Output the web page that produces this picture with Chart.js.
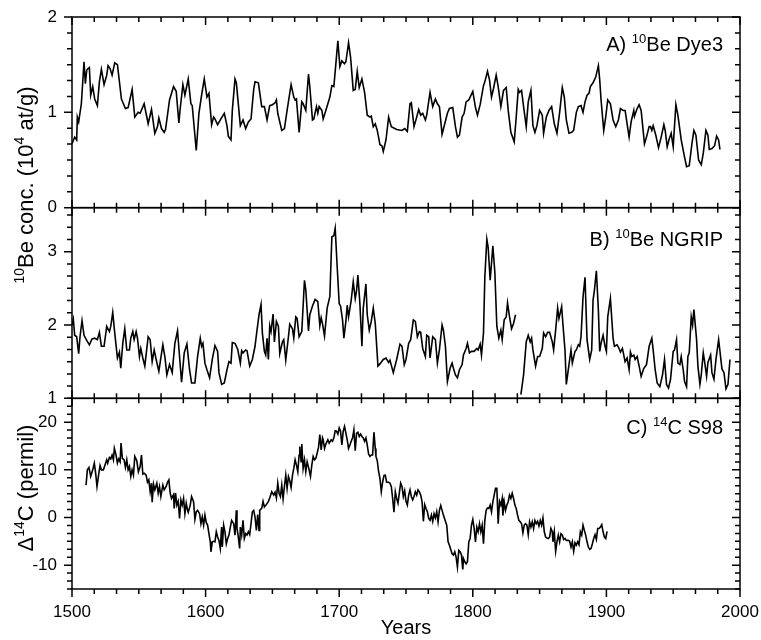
<!DOCTYPE html>
<html>
<head>
<meta charset="utf-8">
<script src="https://cdn.jsdelivr.net/npm/chart.js@4.4.1/dist/chart.umd.min.js"></script>
<style>
    html, body { margin: 0; padding: 0; background: #fff; }
    #wrap { width: 761px; height: 640px; }
</style>
</head>
<body>
<div id="wrap"><canvas id="cosmo" width="761" height="640"></canvas></div>
<script>
var dye3Years = [1500, 1502, 1503.5, 1504, 1505, 1507, 1509, 1510, 1511, 1512, 1513, 1514, 1515.5, 1517, 1519, 1520.5, 1522, 1524, 1526, 1527, 1528.5, 1530, 1532, 1534, 1537, 1540, 1542, 1545, 1547, 1549.5, 1551, 1554, 1557, 1559.5, 1562, 1564, 1565, 1567, 1569, 1570, 1573, 1576, 1578, 1580, 1581, 1583, 1584.5, 1587, 1589, 1590, 1593, 1595, 1597, 1599, 1601, 1602.5, 1604.5, 1606, 1607, 1609, 1611, 1614, 1616, 1617, 1619, 1620, 1622, 1623, 1626, 1628, 1630, 1632, 1634, 1636, 1637, 1639.5, 1642, 1644, 1646, 1648, 1650, 1652, 1653, 1654, 1657, 1659, 1661, 1664, 1666, 1667, 1668, 1670, 1672, 1673, 1675, 1677, 1678, 1680, 1681, 1683, 1684, 1685, 1687, 1688, 1690, 1693, 1694.5, 1696, 1699, 1700.5, 1702, 1704, 1705, 1707, 1708.5, 1710.5, 1712, 1713.5, 1715, 1717, 1719, 1721, 1723, 1724, 1725.5, 1727, 1728.5, 1730.5, 1732, 1733, 1735, 1737, 1739, 1743, 1747, 1749, 1751, 1753, 1754, 1756, 1758, 1759.5, 1761, 1762.5, 1764.5, 1765.5, 1768, 1770, 1772, 1773.5, 1775, 1777, 1779, 1781, 1782.5, 1785, 1787, 1788.5, 1790, 1792, 1793.5, 1795, 1797, 1798, 1800, 1802, 1803.5, 1805.5, 1808, 1809, 1811, 1812.5, 1814, 1815.5, 1817.5, 1819, 1821, 1823, 1825, 1826.5, 1828.5, 1831, 1832.5, 1834, 1835, 1836.5, 1838, 1840, 1841.5, 1843.5, 1845, 1846.5, 1848, 1850, 1852, 1853, 1855, 1857, 1859, 1861, 1863, 1865, 1867, 1868.5, 1870, 1872, 1874, 1875.5, 1877.5, 1879, 1881, 1882.5, 1884, 1885.5, 1887, 1888, 1890, 1892, 1894, 1895, 1896, 1898, 1899.5, 1901, 1903, 1905, 1907, 1909, 1910.5, 1912.5, 1914, 1915.5, 1917, 1918.5, 1920.5, 1921, 1923, 1924.5, 1926, 1928.5, 1930, 1932, 1933, 1934, 1935, 1937, 1939, 1941, 1943, 1944, 1945.5, 1947, 1948.5, 1950, 1952, 1953.5, 1956, 1958.5, 1960, 1962, 1964, 1965.5, 1967, 1969, 1971, 1972.5, 1974.5, 1976, 1977, 1979, 1981, 1982.5, 1984, 1985];
var dye3Values = [0.67, 0.74, 0.71, 0.95, 0.90, 1.09, 1.53, 1.30, 1.44, 1.46, 1.47, 1.18, 1.27, 1.14, 1.07, 1.32, 1.45, 1.29, 1.39, 1.49, 1.46, 1.39, 1.52, 1.50, 1.14, 1.04, 1.05, 1.24, 0.95, 1.00, 0.99, 1.09, 0.88, 1.03, 0.78, 0.85, 0.94, 0.83, 0.79, 0.82, 1.13, 1.27, 1.22, 0.89, 1.04, 1.29, 1.18, 1.35, 1.09, 1.07, 0.60, 0.99, 1.18, 1.35, 1.16, 1.20, 0.87, 0.95, 0.93, 0.87, 0.92, 0.99, 0.86, 0.75, 0.71, 1.02, 1.35, 1.31, 0.86, 0.92, 0.83, 0.90, 0.93, 1.24, 1.32, 1.31, 1.06, 1.06, 0.92, 1.07, 1.08, 1.10, 1.13, 0.99, 0.81, 0.83, 1.02, 1.29, 1.16, 1.13, 1.14, 0.79, 1.11, 1.09, 1.02, 1.40, 1.27, 0.92, 0.93, 1.06, 0.99, 1.06, 1.02, 0.93, 1.02, 1.16, 1.28, 1.27, 1.75, 1.48, 1.54, 1.51, 1.53, 1.73, 1.58, 1.23, 1.24, 1.43, 1.26, 1.35, 1.21, 0.97, 0.95, 0.96, 0.85, 0.88, 0.81, 0.66, 0.65, 0.59, 0.71, 0.95, 0.85, 0.82, 0.81, 0.83, 0.80, 1.09, 1.10, 0.85, 0.95, 1.03, 0.97, 0.99, 0.92, 0.97, 1.21, 1.06, 1.14, 1.09, 1.06, 0.77, 0.88, 0.99, 1.04, 1.05, 0.85, 0.74, 0.76, 0.95, 0.99, 1.11, 1.13, 1.16, 1.22, 1.05, 0.97, 1.08, 1.28, 1.32, 1.43, 1.34, 1.16, 1.25, 1.39, 1.27, 1.06, 1.23, 1.26, 1.02, 0.79, 0.69, 0.95, 1.24, 1.21, 1.23, 1.06, 0.85, 1.11, 1.23, 0.86, 0.79, 0.86, 1.02, 0.97, 0.78, 0.95, 1.02, 1.06, 0.88, 0.78, 1.00, 1.26, 1.16, 0.92, 0.78, 0.79, 0.81, 1.00, 1.06, 1.07, 1.00, 1.11, 1.18, 1.20, 1.27, 1.31, 1.37, 1.49, 1.34, 1.13, 0.81, 0.95, 1.13, 1.09, 0.92, 0.85, 0.92, 1.04, 1.02, 1.02, 0.88, 0.74, 0.90, 1.02, 0.96, 1.04, 1.08, 1.02, 0.67, 0.74, 0.85, 0.85, 0.81, 0.86, 0.76, 0.63, 0.74, 0.87, 0.81, 0.64, 0.72, 0.78, 0.64, 1.08, 0.97, 0.71, 0.53, 0.43, 0.44, 0.67, 0.81, 0.76, 0.50, 0.45, 0.57, 0.81, 0.76, 0.61, 0.62, 0.65, 0.75, 0.71, 0.61];

var ngripYears = [1500, 1501, 1502, 1503.5, 1505, 1506, 1507.5, 1509, 1511, 1513, 1515, 1517, 1519, 1520.5, 1522, 1524, 1526, 1528, 1529, 1530.5, 1532, 1534, 1535.5, 1536.5, 1538, 1539.5, 1541, 1543, 1544, 1545.5, 1546.5, 1548, 1549, 1550.5, 1551.5, 1553, 1554.5, 1557, 1558.5, 1560, 1561.5, 1563, 1565, 1568, 1569.5, 1571, 1573, 1575, 1577, 1579, 1580.5, 1582, 1584, 1586, 1588, 1589.5, 1592, 1594, 1596, 1597, 1598, 1599.5, 1601, 1603, 1605, 1607, 1609, 1610, 1612, 1614, 1616, 1617.5, 1619, 1620, 1622, 1624, 1626, 1627, 1628, 1630, 1631, 1633, 1635, 1637, 1638, 1640, 1641.5, 1642.5, 1644, 1645, 1646, 1647, 1648, 1649, 1650.5, 1651.5, 1653, 1654.5, 1655.5, 1657.5, 1658.5, 1660, 1662, 1663, 1665, 1666, 1667.5, 1668.5, 1670, 1672, 1674, 1675, 1677, 1678, 1680, 1682, 1684, 1685.5, 1686.5, 1687.5, 1689, 1691, 1693, 1694.5, 1696, 1697, 1698.5, 1700, 1701, 1702.5, 1703.5, 1705, 1706, 1707, 1709, 1710.5, 1712, 1713, 1714, 1715.5, 1717, 1718, 1720, 1721, 1722.5, 1724, 1725.5, 1727, 1729, 1730.5, 1733, 1735, 1737, 1738, 1740.5, 1743, 1745.5, 1747, 1748.7, 1750, 1752, 1753.5, 1755.5, 1757, 1758.5, 1760, 1761, 1762.5, 1764.5, 1765.5, 1767, 1768, 1770, 1772, 1773.5, 1775, 1777, 1778, 1779.5, 1781, 1783, 1784.5, 1785.5, 1787, 1788.5, 1790, 1792, 1793, 1795, 1796, 1797.5, 1799, 1801, 1803, 1804, 1805.5, 1806.5, 1808, 1809, 1810.5, 1811.5, 1813, 1814, 1815, 1816.5, 1818, 1819.5, 1821, 1822, 1823.5, 1825, 1826, 1827.5, 1829, 1830.5, 1832, 1834, 1836, 1838, 1840, 1841.5, 1843, 1844, 1845, 1847, 1848.5, 1850, 1852, 1853, 1854.5, 1856, 1857.5, 1859.5, 1860.5, 1862, 1863.5, 1864.5, 1866.5, 1867.5, 1869, 1870, 1872, 1873.5, 1874.5, 1876.5, 1877.5, 1879, 1880, 1881, 1882.5, 1884, 1885.5, 1887.5, 1889, 1890, 1891, 1892.5, 1894, 1895, 1896, 1897.5, 1899, 1900, 1901, 1903, 1905, 1906, 1908, 1909.5, 1910.5, 1912, 1914, 1915.5, 1917, 1918, 1919, 1920.5, 1921.5, 1923, 1924.5, 1926, 1928, 1930, 1932, 1934, 1935, 1936.5, 1938, 1940, 1942, 1943.5, 1945, 1946.5, 1948, 1950, 1951, 1952.5, 1953.5, 1955, 1956, 1957.5, 1958.5, 1960, 1961, 1962, 1963.5, 1964.5, 1965.5, 1967.5, 1968.5, 1970, 1971, 1972.5, 1973.5, 1975, 1976, 1978, 1979, 1980.5, 1982, 1984, 1985, 1986.5, 1988, 1989.5, 1991, 1992.5];
var ngripValues = [2.00, 2.08, 1.86, 1.84, 1.61, 1.84, 2.06, 1.86, 1.79, 1.73, 1.81, 1.82, 1.80, 1.90, 1.71, 1.71, 1.98, 1.91, 1.98, 2.17, 1.89, 1.55, 1.63, 1.41, 1.75, 1.95, 1.66, 1.66, 1.82, 1.91, 1.80, 1.91, 1.82, 1.57, 1.68, 1.55, 1.44, 1.84, 1.80, 1.50, 1.66, 1.53, 1.37, 1.73, 1.57, 1.32, 1.46, 1.35, 1.75, 1.92, 1.57, 1.22, 1.62, 1.74, 1.39, 1.21, 1.21, 1.57, 1.82, 1.71, 1.75, 1.48, 1.39, 1.28, 1.53, 1.72, 1.64, 1.35, 1.19, 1.21, 1.39, 1.50, 1.48, 1.76, 1.75, 1.67, 1.48, 1.65, 1.62, 1.66, 1.65, 1.44, 1.53, 1.71, 1.86, 2.14, 2.28, 1.89, 1.64, 1.59, 1.82, 1.53, 1.99, 1.91, 2.15, 1.77, 2.05, 1.98, 1.61, 1.77, 1.80, 1.52, 1.84, 2.01, 1.95, 1.82, 2.11, 2.09, 1.84, 1.91, 2.61, 2.48, 1.92, 2.14, 2.26, 2.35, 2.32, 1.99, 2.10, 2.02, 1.85, 2.23, 2.39, 3.20, 3.22, 3.32, 2.79, 2.29, 2.26, 2.07, 1.82, 2.05, 2.27, 2.11, 2.34, 2.59, 2.36, 2.47, 2.68, 2.29, 1.71, 2.23, 2.56, 2.14, 1.93, 2.05, 2.23, 2.02, 1.44, 1.47, 1.53, 1.55, 1.49, 1.52, 1.35, 1.53, 1.74, 1.71, 1.46, 1.53, 1.75, 1.80, 2.07, 2.05, 1.84, 1.91, 1.90, 1.68, 1.57, 1.86, 1.84, 1.55, 1.84, 1.80, 1.48, 1.66, 2.00, 1.93, 1.71, 1.23, 1.41, 1.48, 1.41, 1.32, 1.28, 1.39, 1.46, 1.59, 1.68, 1.75, 1.62, 1.64, 1.64, 1.68, 1.66, 1.74, 1.59, 1.89, 2.65, 3.17, 3.06, 2.61, 2.84, 3.08, 2.72, 1.98, 1.82, 1.93, 1.80, 2.07, 2.11, 2.30, 2.11, 1.95, 2.02, 2.14, null, 1.05, 1.32, 1.77, 1.86, 1.77, 1.82, 1.66, 1.44, 1.57, 1.57, 1.68, 1.89, 1.84, 1.90, 1.90, 1.77, 1.66, 1.93, 2.23, 2.09, 2.25, 2.00, 1.66, 1.19, 1.46, 1.66, 1.48, 1.64, 1.66, 1.73, 1.71, 1.84, 2.38, 2.65, 1.80, 1.53, 1.66, 2.34, 2.47, 2.74, 2.20, 1.64, 1.75, 1.86, 1.71, 1.64, 2.11, 2.36, 1.82, 1.71, 1.73, 1.68, 1.63, 1.68, 1.50, 1.55, 1.39, 1.63, 1.57, 1.59, 1.53, 1.57, 1.44, 1.30, 1.41, 1.46, 1.71, 1.82, 1.66, 1.39, 1.21, 1.16, 1.32, 1.53, 1.19, 1.14, 1.26, 1.64, 1.66, 1.80, 1.48, 1.46, 1.57, 1.39, 1.23, 1.16, 1.57, 1.62, 2.11, 2.00, 2.21, 1.80, 1.44, 1.19, 1.32, 1.62, 1.50, 1.30, 1.49, 1.59, 1.35, 1.26, 1.53, 1.80, 1.64, 1.40, 1.35, 1.13, 1.19, 1.53];

var s98Years = [1510.5, 1511.5, 1512.7, 1514, 1515.5, 1516.7, 1517.7, 1518.7, 1520, 1521, 1522, 1523.5, 1524.7, 1526, 1526.7, 1528, 1529, 1530, 1531, 1531.7, 1533, 1534, 1535, 1536, 1536.7, 1537.7, 1539, 1540, 1541, 1542, 1543, 1544, 1545, 1546, 1547, 1548.5, 1549.7, 1551, 1552, 1553, 1554, 1555.5, 1556.5, 1557.5, 1558.5, 1559.5, 1560, 1561, 1562, 1563.5, 1564.5, 1565.5, 1566.5, 1568, 1569, 1570.5, 1571.5, 1572.5, 1573.5, 1574.5, 1576, 1576.5, 1577.5, 1578.5, 1579.5, 1580.5, 1581.5, 1582.5, 1583.5, 1584.5, 1585.5, 1586.5, 1587, 1588.5, 1589.5, 1591, 1592, 1593, 1594, 1595.5, 1596.5, 1597.5, 1598.5, 1599.5, 1600.5, 1601.5, 1602.5, 1603.5, 1604, 1605, 1606, 1607, 1608, 1609, 1610, 1611, 1612, 1612.5, 1613.5, 1614.5, 1615.5, 1616.5, 1617.5, 1618.5, 1619.5, 1621, 1622, 1623, 1623.5, 1624.5, 1625.5, 1626, 1627, 1628, 1629, 1630, 1631, 1632, 1633, 1634, 1635, 1636, 1637, 1638, 1639, 1640, 1640.5, 1642, 1643, 1644, 1645.5, 1647, 1648, 1649.5, 1651, 1652, 1653, 1654, 1655, 1656, 1657, 1658, 1659, 1660, 1661, 1662, 1663, 1664, 1665, 1666, 1667, 1668, 1669, 1670, 1670.5, 1671.5, 1672, 1673, 1674, 1675, 1676, 1677.5, 1678.5, 1679.5, 1680.5, 1681.5, 1682.5, 1683.5, 1684.5, 1685.5, 1686.5, 1687.5, 1688, 1689, 1690, 1691.5, 1692.5, 1694, 1695, 1696, 1697, 1698, 1699, 1700, 1701, 1702, 1703, 1704, 1705, 1706, 1707, 1708, 1709, 1710, 1711, 1712, 1713, 1714, 1715, 1716, 1717, 1718, 1719, 1720, 1721, 1722, 1723, 1724, 1725, 1726, 1727, 1727.5, 1728.5, 1729.5, 1730.5, 1731.5, 1732.5, 1733.5, 1734.5, 1735.5, 1737, 1738, 1739, 1740, 1741, 1742, 1743, 1744, 1745, 1746, 1747, 1748, 1749, 1750, 1751, 1752, 1753, 1754, 1755, 1756, 1757, 1758, 1759, 1760, 1761, 1762, 1763, 1764, 1765, 1766, 1767, 1768, 1769, 1770, 1771, 1772, 1773, 1774, 1775, 1776, 1777, 1778, 1779.5, 1780.5, 1781.5, 1782.5, 1783.5, 1784.5, 1785.5, 1786.5, 1787.5, 1788.5, 1789.5, 1790.5, 1791.5, 1792.5, 1793, 1794, 1795, 1796, 1797, 1798, 1799, 1800, 1801, 1802, 1803, 1804, 1805, 1806, 1807, 1808, 1809, 1810, 1811, 1812, 1813, 1814, 1815, 1816, 1817, 1818, 1819, 1820, 1821, 1822, 1822.5, 1823.5, 1824.5, 1825.5, 1826.5, 1827.5, 1828.5, 1829.5, 1830.5, 1831.5, 1832.5, 1833.5, 1834.5, 1835.5, 1836.5, 1837.5, 1838.5, 1839.5, 1840.5, 1841.5, 1842.5, 1843.5, 1844.5, 1845.5, 1846.5, 1847.5, 1848.5, 1849.5, 1850.5, 1851.5, 1852.5, 1853.5, 1854.5, 1855.5, 1856.5, 1857.5, 1858.5, 1859.5, 1860, 1861, 1862, 1863, 1864, 1865, 1866, 1867, 1868, 1869, 1870, 1871.5, 1872.5, 1873.5, 1874.5, 1875.5, 1876.5, 1877.5, 1878.5, 1879.5, 1880.5, 1881.5, 1882.5, 1883.5, 1884.5, 1885.5, 1886.5, 1887.5, 1888.5, 1889.5, 1890.5, 1891.5, 1892.5, 1893.5, 1894.5, 1895.5, 1896.5, 1897.5, 1898.5, 1899.5, 1900.5];
var s98Values = [6.8, 10.0, 10.5, 8.6, 10.0, 11.4, 9.3, 6.5, 9.1, 10.9, 10.0, 10.0, 11.0, 12.1, 11.4, 12.6, 12.3, 13.1, 12.1, 14.5, 13.1, 11.4, 12.3, 11.7, 15.6, 12.4, 12.1, 10.5, 12.1, 10.0, 10.7, 8.6, 10.0, 8.9, 12.8, 11.9, 9.6, 10.7, 13.1, 9.1, 9.3, 8.9, 7.4, 7.9, 5.4, 7.2, 3.2, 7.0, 5.8, 7.2, 5.1, 6.5, 4.4, 6.8, 5.8, 6.5, 7.4, 7.9, 5.1, 4.0, 4.8, 1.9, 5.1, 2.6, 3.4, -0.2, 3.7, 2.6, 4.0, 0.8, 3.0, 1.5, 1.1, 2.6, 4.4, 3.3, -0.4, 1.2, 1.5, 0.8, -1.3, 0.1, -1.6, 0.5, -1.1, -1.6, -3.4, -5.1, -7.2, -5.1, -5.0, -5.1, -3.0, -4.1, -4.8, -6.5, -2.0, -6.2, -1.6, -3.0, -5.5, -4.4, -3.7, -2.0, -0.6, -1.3, -3.7, 1.5, -2.3, -4.1, -6.5, -2.0, -3.7, -0.6, -4.4, -3.4, -3.7, -3.0, -3.6, -1.3, 1.2, 1.5, 0.1, -2.7, 0.6, -2.7, 1.5, 1.9, 3.4, 2.2, 2.7, 3.4, 4.1, 5.4, 4.7, 5.3, 4.1, 7.2, 5.1, 4.4, 6.8, 3.9, 6.5, 8.9, 6.1, 8.6, 7.7, 6.3, 8.8, 10.3, 12.1, 11.0, 9.6, 13.1, 14.9, 11.7, 15.4, 10.3, 12.1, 9.6, 11.7, 10.0, 8.6, 11.0, 12.8, 12.1, 12.4, 13.5, 14.7, 17.4, 14.2, 16.7, 16.3, 14.5, 15.4, 16.3, 15.6, 16.3, 16.0, 16.7, 18.2, 18.1, 17.5, 18.8, 18.1, 15.2, 18.1, 19.1, 17.7, 16.3, 14.5, 15.2, 16.0, 16.7, 18.4, 14.0, 17.7, 17.9, 17.0, 17.5, 17.0, 16.7, 16.0, 16.7, 15.2, 13.3, 12.8, 13.1, 13.1, 17.9, 14.5, 12.8, 11.9, 9.6, 8.2, 5.4, 7.4, 8.8, 8.9, 7.4, 7.4, 7.2, 6.5, 4.0, 1.1, 5.4, 4.0, 3.0, 5.1, 7.2, 6.5, 4.4, 5.6, 3.4, 2.6, 4.7, 5.8, 4.4, 3.7, 4.4, 5.4, 4.7, 5.8, 5.4, 4.7, 3.4, -0.8, 2.7, 1.9, 1.2, -0.2, -0.6, 0.5, -0.8, 0.8, -0.1, 1.2, -0.9, 1.5, 2.5, 1.5, 0.5, -0.8, -1.6, -5.1, -5.8, -6.7, -7.6, -7.9, -7.2, -8.3, -10.4, -6.9, -7.2, -7.8, -10.9, -8.6, -9.3, -9.7, -9.3, -5.1, -4.4, -1.6, -0.4, -2.3, -5.1, -2.0, -3.0, -1.3, -3.0, -1.6, -5.5, -0.6, 1.5, 2.0, 1.9, 2.6, 1.2, 3.3, 4.7, 6.1, 6.1, -1.3, 3.4, 2.6, 4.0, 0.4, 3.3, 1.5, 2.6, 3.3, 4.7, 4.0, 5.1, 4.0, 2.6, 1.9, 0.5, -0.6, -0.9, -1.3, -3.2, -1.6, -1.3, -1.6, -3.6, -0.9, -2.0, -0.9, -2.3, -0.6, -1.3, -0.8, -1.8, -0.6, -1.6, -0.1, -3.0, -4.1, -4.3, -4.4, -4.1, -2.3, -3.0, -5.1, -3.0, -7.1, -5.1, -3.7, -5.1, -3.4, -3.7, -4.6, -4.4, -4.8, -4.8, -5.0, -6.2, -5.1, -7.1, -5.3, -5.8, -5.1, -5.7, -3.0, -3.7, -1.6, -2.7, -3.7, -5.1, -6.2, -6.7, -6.5, -5.5, -4.4, -3.6, -4.6, -2.3, -2.3, -2.0, -1.5, -3.0, -4.1, -4.4, -2.9];

var xTicks = [1500, 1600, 1700, 1800, 1900, 2000];
var dye3Ticks = [0, 1, 2];
var ngripTicks = [1, 2, 3];
var s98Ticks = [-10, 0, 10, 20];

var FONT = '"Liberation Sans", Arial, sans-serif';
Chart.defaults.font.family = FONT;
Chart.defaults.color = '#000';

function zip(xs, ys) {
    var out = [];
    for (var i = 0; i < xs.length; i++) {
        out.push({ x: xs[i], y: ys[i] });
    }
    return out;
}

function series(xs, ys, axis) {
    return {
        data: zip(xs, ys),
        yAxisID: axis,
        showLine: true,
        spanGaps: false,
        borderColor: '#000',
        borderWidth: 1.6,
        pointRadius: 0,
        tension: 0
    };
}

function yAxis(min, max, ticks, weight) {
    return {
        type: 'linear',
        position: 'left',
        stack: 'panels',
        stackWeight: 1,
        weight: weight,
        min: min,
        max: max,
        offset: false,
        grid: { display: false, drawTicks: false },
        border: { display: false },
        ticks: { font: { size: 17 }, padding: 15, autoSkip: false, color: '#000' },
        afterBuildTicks: function (scale) {
            scale.ticks = ticks.map(function (v) { return { value: v }; });
        },
        afterFit: function (scale) {
            scale.width = 72;
            scale.paddingTop = 0;
            scale.paddingBottom = 0;
        }
    };
}

// draws text with superscript pieces, parts = [[text, isSup], ...]
function richText(ctx, parts, x, y, size, align) {
    var supSize = Math.round(size * 0.65);
    var total = 0;
    parts.forEach(function (p) {
        ctx.font = (p[1] ? supSize : size) + 'px ' + FONT;
        total += ctx.measureText(p[0]).width;
    });
    var cx = align === 'right' ? x - total : (align === 'center' ? x - total / 2 : x);
    ctx.textBaseline = 'alphabetic';
    ctx.textAlign = 'left';
    parts.forEach(function (p) {
        ctx.font = (p[1] ? supSize : size) + 'px ' + FONT;
        ctx.fillText(p[0], cx, p[1] ? y - size * 0.4 : y);
        cx += ctx.measureText(p[0]).width;
    });
}

var framePlugin = {
    id: 'frames',
    afterDatasetsDraw: function (chart) {
        var ctx = chart.ctx;
        var xs = chart.scales.x;
        var panels = [chart.scales.yA, chart.scales.yB, chart.scales.yC];
        var steps = [1 / 6, 1 / 6, 10 / 6];
        var majors = [dye3Ticks, ngripTicks, s98Ticks];
        var left = chart.chartArea.left, right = chart.chartArea.right;
        ctx.save();
        ctx.strokeStyle = '#000';
        ctx.lineWidth = 1.5;
        panels.forEach(function (s, i) {
            ctx.strokeRect(left, s.top, right - left, s.bottom - s.top);
            ctx.beginPath();
            // y ticks: left outward, right inward
            var first = majors[i][0];
            var k0 = Math.ceil((s.min - first) / steps[i] - 1e-6);
            var k1 = Math.floor((s.max - first) / steps[i] + 1e-6);
            for (var k = k0; k <= k1; k++) {
                var v = first + k * steps[i];
                var py = s.getPixelForValue(v);
                var len = (k % 6 === 0) ? 8 : 5;
                ctx.moveTo(left - len, py);
                ctx.lineTo(left, py);
                ctx.moveTo(right - len, py);
                ctx.lineTo(right, py);
            }
            // x ticks on top and bottom edge of each panel
            for (var j = 0; j <= 30; j++) {
                var px = xs.getPixelForValue(1500 + j * 100 / 6);
                var l = (j % 6 === 0) ? 8 : 5;
                if (i === 0) {
                    ctx.moveTo(px, s.top);
                    ctx.lineTo(px, s.top + l);
                } else {
                    ctx.moveTo(px, s.top);
                    ctx.lineTo(px, s.top - l);
                }
                ctx.moveTo(px, s.bottom);
                ctx.lineTo(px, s.bottom + l);
            }
            ctx.stroke();
        });

        ctx.fillStyle = '#000';
        richText(ctx, [['A) ', false], ['10', true], ['Be Dye3', false]], 723, panels[0].top + 34, 20, 'right');
        richText(ctx, [['B) ', false], ['10', true], ['Be NGRIP', false]], 723, panels[1].top + 38, 20, 'right');
        richText(ctx, [['C) ', false], ['14', true], ['C S98', false]], 723, panels[2].top + 36, 20, 'right');

        ctx.save();
        ctx.translate(33, 185);
        ctx.rotate(-Math.PI / 2);
        richText(ctx, [['10', true], ['Be conc. (10', false], ['4', true], [' at/g)', false]], 0, 0, 22, 'center');
        ctx.restore();
        ctx.save();
        ctx.translate(33, 488);
        ctx.rotate(-Math.PI / 2);
        richText(ctx, [['\u0394', false], ['14', true], ['C (permil)', false]], 0, 0, 22, 'center');
        ctx.restore();
        ctx.restore();
    }
};

var chart = new Chart(document.getElementById('cosmo'), {
    type: 'scatter',
    data: {
        datasets: [
            series(dye3Years, dye3Values, 'yA'),
            series(ngripYears, ngripValues, 'yB'),
            series(s98Years, s98Values, 'yC')
        ]
    },
    options: {
        responsive: false,
        animation: false,
        layout: { padding: { top: 17, right: 21, left: 0, bottom: 0 } },
        plugins: { legend: { display: false }, tooltip: { enabled: false } },
        scales: {
            x: {
                type: 'linear',
                position: 'bottom',
                min: 1500,
                max: 2000,
                grid: { display: false, drawTicks: false },
                border: { display: false },
                ticks: {
                    font: { size: 17 },
                    padding: 13,
                    autoSkip: false,
                    maxRotation: 0,
                    color: '#000',
                    callback: function (v) { return String(v); }
                },
                afterBuildTicks: function (scale) {
                    scale.ticks = xTicks.map(function (v) { return { value: v }; });
                },
                title: { display: true, text: 'Years', font: { size: 20 }, padding: { top: 0, bottom: 0 }, color: '#000' },
                afterFit: function (scale) {
                    scale.height = 51;
                    scale.paddingLeft = 0;
                    scale.paddingRight = 0;
                }
            },
            yC: yAxis(-15, 25, s98Ticks, 1),
            yB: yAxis(1, 3.6, ngripTicks, 2),
            yA: yAxis(0, 2, dye3Ticks, 3)
        }
    },
    plugins: [framePlugin]
});
</script>
</body>
</html>
